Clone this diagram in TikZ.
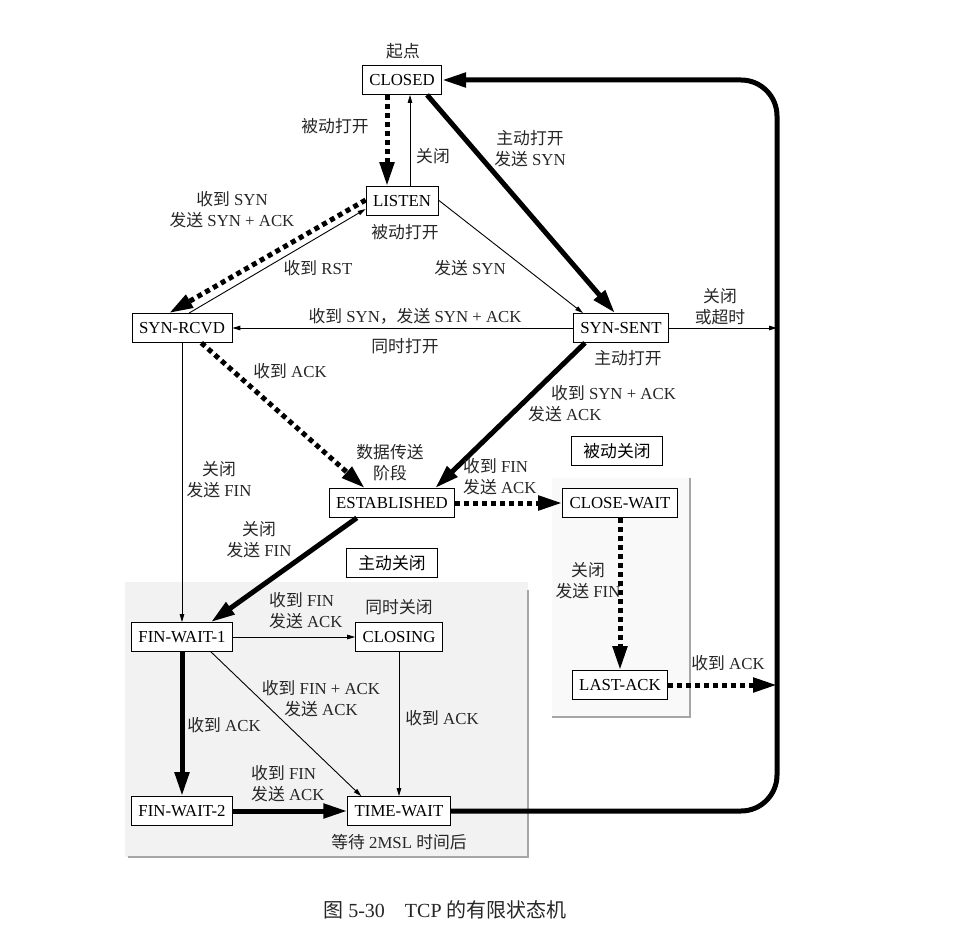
\documentclass[tikz,border=0pt]{standalone}
\usepackage{fontspec}
\setmainfont{Liberation Serif}
\newfontfamily\cjk{Noto Sans CJK SC}
\newcommand{\zh}[1]{{\cjk #1}}
\usepackage{tikz}
\usetikzlibrary{arrows.meta}

\begin{document}
\begin{tikzpicture}[x=1pt, y=-1pt, font=\fontsize{16.8}{21}\selectfont,
  stato/.style={draw, fill=white, line width=0.8pt, minimum height=29pt, inner xsep=7pt},
  sottile/.style={line width=0.9pt, -{Triangle[length=8pt,width=4.5pt]}},
  spesso/.style={line width=5pt, -{Triangle[length=24pt,width=14pt]}},
  puntini/.style={spesso, dash pattern=on 5pt off 4pt},
  etic/.style={inner sep=1pt, align=center, text=black!85}]
  \useasboundingbox (0,0) rectangle (969,933);
  % zone grigie (chiusura attiva e passiva)
  \fill[gray!10] (125,582) rectangle (528,857);
  \draw[gray!70, line width=1.5pt] (528,590) -- (528,857) -- (128,857);
  \fill[gray!5] (552,478) rectangle (690,717);
  \draw[gray!70, line width=1.5pt] (690,478) -- (690,717) -- (552,717);
  % stati
  \foreach \nome/\x/\y/\testo in {closed/402/80/CLOSED, listen/402/201/LISTEN,
      synrcvd/182/328/SYN-RCVD, synsent/621/328/SYN-SENT,
      established/392/503/ESTABLISHED, closewait/620/503/CLOSE-WAIT,
      finwaitA/182/637/FIN-WAIT-1, closing/399/637/CLOSING,
      finwaitB/182/811/FIN-WAIT-2, timewait/399/811/TIME-WAIT,
      lastack/620/685/LAST-ACK}{
    \node[stato] (\nome) at (\x,\y) {\testo};
  }
  \node[stato, inner xsep=12pt] (passivo) at (617,451) {\zh{被动关闭}};
  \node[stato, inner xsep=12pt] (attivo) at (392,563) {\zh{主动关闭}};
  \coordinate (anelloA) at (777,328);
  \coordinate (anelloB) at (777,685);
  % transizioni di apertura
  \draw[puntini] ([xshift=-15pt]closed.south) -- ([xshift=-15pt]listen.north);
  \draw[sottile] ([xshift=8pt]listen.north) -- ([xshift=8pt]closed.south);
  \draw[spesso] ([xshift=-15pt]closed.south east) -- ([xshift=-6pt]synsent.north);
  \draw[puntini] ([yshift=1pt]listen.west) -- ([xshift=-13pt]synrcvd.north);
  \draw[sottile] ([xshift=7pt]synrcvd.north) -- ([yshift=-8pt]listen.west);
  \draw[sottile] ([yshift=1pt]listen.east) -- ([xshift=10pt]synsent.north west);
  \draw[sottile] (synsent.west) -- (synrcvd.east);
  \draw[sottile] (synsent.east) -- (anelloA);
  \draw[spesso] ([xshift=12pt]synsent.south west) -- ([xshift=-20pt]established.north east);
  \draw[puntini] ([xshift=-31pt]synrcvd.south east) -- ([xshift=36pt]established.north west);
  \draw[sottile] (synrcvd.south) -- (finwaitA.north);
  % transizioni di chiusura
  \draw[puntini] (established.east) -- (closewait.west);
  \draw[spesso] ([xshift=28pt]established.south west) -- ([xshift=-22pt]finwaitA.north east);
  \draw[puntini] (closewait.south) -- (lastack.north);
  \draw[puntini] (lastack.east) -- (anelloB);
  \draw[sottile] (finwaitA.east) -- (closing.west);
  \draw[sottile] ([xshift=-22pt]finwaitA.south east) -- ([xshift=14pt]timewait.north west);
  \draw[spesso] (finwaitA.south) -- (finwaitB.north);
  \draw[sottile] (closing.south) -- (timewait.north);
  \draw[spesso] (finwaitB.east) -- (timewait.west);
  \draw[spesso, rounded corners=36pt] (timewait.east) -- (777,811) -- (777,80) -- (closed.east);
  % etichette
  \node[etic] (l1) at (403,51) {\zh{起点}};
  \node[etic] (l2) at (335,126) {\zh{被动打开}};
  \node[etic] (l3) at (433,156) {\zh{关闭}};
  \node[etic] (l4) at (530,149) {\zh{主动打开}\\\zh{发送} SYN};
  \node[etic] (l5) at (232,210) {\zh{收到} SYN\\\zh{发送} SYN + ACK};
  \node[etic] (l6) at (405,232) {\zh{被动打开}};
  \node[etic] (l7) at (318,268) {\zh{收到} RST};
  \node[etic] (l8) at (470,268) {\zh{发送} SYN};
  \node[etic] (l9) at (415,316) {\zh{收到} SYN\zh{，发送} SYN + ACK};
  \node[etic] (l10) at (405,346) {\zh{同时打开}};
  \node[etic] (l11) at (720,307) {\zh{关闭}\\\zh{或超时}};
  \node[etic] (l12) at (628,358) {\zh{主动打开}};
  \node[etic, anchor=west, align=left] (l13) at (527,404) {\hspace*{23pt}\zh{收到} SYN + ACK\\\zh{发送} ACK};
  \node[etic] (l14) at (290,371) {\zh{收到} ACK};
  \node[etic] (l15) at (219,480) {\zh{关闭}\\\zh{发送} FIN};
  \node[etic] (l16) at (390,463) {\zh{数据传送}\\\zh{阶段}};
  \node[etic, anchor=west, align=left] (l17) at (462,477) {\zh{收到} FIN\\\zh{发送} ACK};
  \node[etic] (l18) at (259,540) {\zh{关闭}\\\zh{发送} FIN};
  \node[etic] (l19) at (588,581) {\zh{关闭}\\\zh{发送} FIN};
  \node[etic] (l20) at (728,663) {\zh{收到} ACK};
  \node[etic, anchor=west, align=left] (l21) at (268,611) {\zh{收到} FIN\\\zh{发送} ACK};
  \node[etic] (l22) at (399,607) {\zh{同时关闭}};
  \node[etic] (l23) at (321,699) {\zh{收到} FIN + ACK\\\zh{发送} ACK};
  \node[etic] (l24) at (224,725) {\zh{收到} ACK};
  \node[etic] (l25) at (442,718) {\zh{收到} ACK};
  \node[etic, anchor=west, align=left] (l26) at (250,784) {\zh{收到} FIN\\\zh{发送} ACK};
  \node[etic] (l27) at (399,842) {\zh{等待} 2MSL \zh{时间后}};
  % didascalia
  \node[etic, font=\fontsize{20}{24}\selectfont] (titolo) at (445,910) {\zh{图} 5-30\quad TCP \zh{的有限状态机}};
\end{tikzpicture}
\end{document}
